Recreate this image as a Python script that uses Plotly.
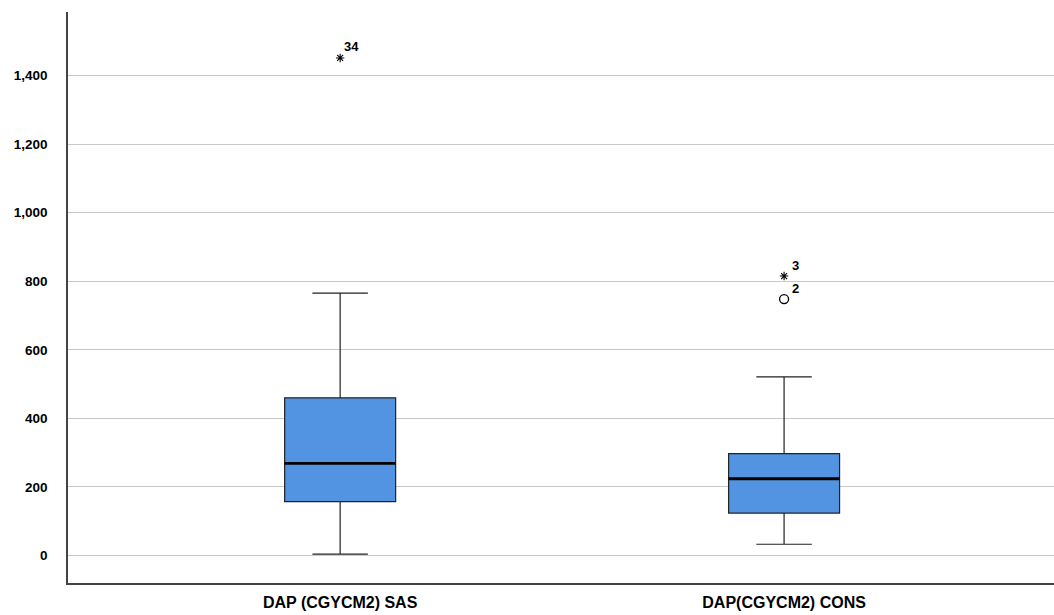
import plotly.graph_objects as go

categories = ["DAP (CGYCM2) SAS", "DAP(CGYCM2) CONS"]
q1 = [157, 124]
median = [269, 224]
q3 = [460, 297]
lower_whisker = [4, 33]
upper_whisker = [765, 521]

# outliers: (category index, value, case label, kind)
out_cat = [0, 1, 1]
out_val = [1451, 815, 748]
out_lab = ["34", "3", "2"]
out_kind = ["extreme", "extreme", "mild"]

y_ticks = [0, 200, 400, 600, 800, 1000, 1200, 1400]
y_tick_text = ["0", "200", "400", "600", "800", "1,000", "1,200", "1,400"]

BOX_W = 0.25

fig = go.Figure()
fig.add_trace(go.Box(
    x=categories, q1=q1, median=median, q3=q3,
    lowerfence=lower_whisker, upperfence=upper_whisker,
    fillcolor="#5294E2", line=dict(color="#222222", width=1.2),
    width=BOX_W, whiskerwidth=0.5, boxpoints=False, showlegend=False,
    hoverinfo="skip",
))

# thick median lines
for i, m in enumerate(median):
    fig.add_shape(type="line", xref="x", yref="y",
                  x0=i - BOX_W / 2, x1=i + BOX_W / 2, y0=m, y1=m,
                  line=dict(color="black", width=2.8))

for kind, sym, size, lw in [("extreme", "asterisk-open", 7, 1.1), ("mild", "circle-open", 9, 1.3)]:
    xs = [categories[c] for c, k in zip(out_cat, out_kind) if k == kind]
    ys = [v for v, k in zip(out_val, out_kind) if k == kind]
    fig.add_trace(go.Scatter(
        x=xs, y=ys, mode="markers", showlegend=False, hoverinfo="skip",
        marker=dict(symbol=sym, size=size, color="black",
                    line=dict(color="black", width=lw)),
    ))

for c, v, lab in zip(out_cat, out_val, out_lab):
    fig.add_annotation(x=categories[c], y=v, text="<b>" + lab + "</b>",
                       showarrow=False, xshift=11, yshift=11,
                       font=dict(family="Liberation Sans, Arial", size=13, color="black"))

fig.update_layout(
    width=1054, height=615,
    margin=dict(l=68, r=0, t=12, b=32),
    paper_bgcolor="white", plot_bgcolor="white",
    font=dict(family="Liberation Sans, Arial", color="black"),
)
fig.update_xaxes(
    type="category", range=[-0.613, 1.608], automargin=False,
    showgrid=False, showline=True, linecolor="#444444", linewidth=1.5,
    ticks="outside", ticklen=4, tickcolor="rgba(0,0,0,0)",
    tickfont=dict(family="Liberation Sans Narrow, Arial Narrow, Liberation Sans", size=16, color="black"),
    tickvals=categories, ticktext=["<b>" + c + "</b>" for c in categories],
    zeroline=False,
)
fig.update_yaxes(
    range=[-80, 1585], automargin=False,
    tickvals=y_ticks, ticktext=["<b>" + t + "</b>" for t in y_tick_text],
    tickfont=dict(family="Liberation Sans, Arial", size=13.5, color="black"),
    showgrid=True, gridcolor="#c8c8c8", gridwidth=1,
    showline=True, linecolor="#444444", linewidth=1.5,
    ticks="outside", ticklen=16, tickcolor="rgba(0,0,0,0)",
    zeroline=False,
)

fig.write_html(
    "out.html",
    config={"displayModeBar": False},
    post_script="document.body.style.margin='0';document.body.style.overflow='hidden';",
)
